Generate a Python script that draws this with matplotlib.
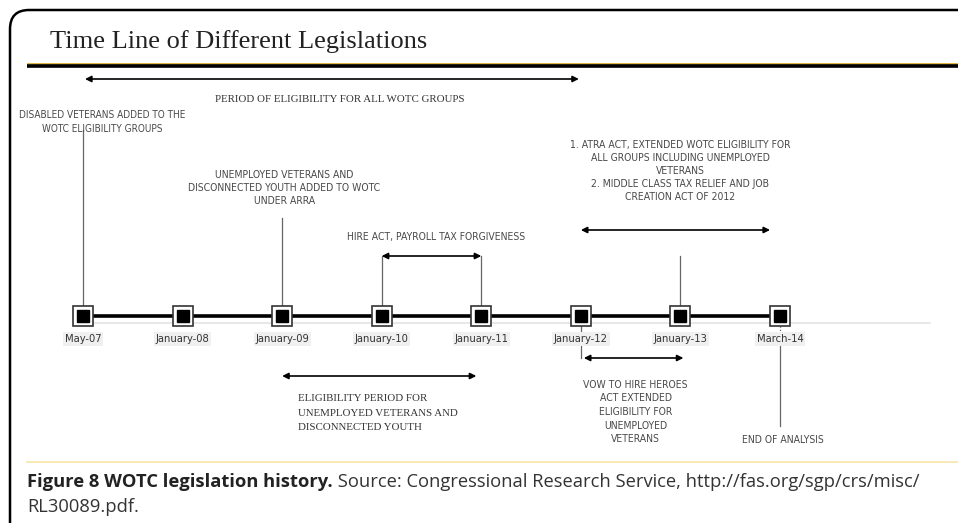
import matplotlib.pyplot as plt
from matplotlib.patches import FancyBboxPatch

# timeline milestones (evenly spaced on the chart)
dates = ['May-07', 'January-08', 'January-09', 'January-10', 'January-11',
         'January-12', 'January-13', 'March-14']
pos = list(range(len(dates)))

# spans drawn as double arrows (start index, end index)
all_groups_span = (0, 5)
hire_span = (3, 4)
atra_span = (5, 6.9)
unemployed_span = (2, 3.95)
vow_span = (5, 6)

title = 'Time Line of Different Legislations'
all_groups_txt = 'PERIOD OF ELIGIBILITY FOR ALL WOTC GROUPS'
disabled_txt = 'DISABLED VETERANS ADDED TO THE\nWOTC ELIGIBILITY GROUPS'
arra_txt = 'UNEMPLOYED VETERANS AND\nDISCONNECTED YOUTH ADDED TO WOTC\nUNDER ARRA'
hire_txt = 'HIRE ACT, PAYROLL TAX FORGIVENESS'
atra_txt = ('1. ATRA ACT, EXTENDED WOTC ELIGIBILITY FOR\nALL GROUPS INCLUDING UNEMPLOYED\n'
            'VETERANS\n2. MIDDLE CLASS TAX RELIEF AND JOB\nCREATION ACT OF 2012')
unemp_txt = 'ELIGIBILITY PERIOD FOR\nUNEMPLOYED VETERANS AND\nDISCONNECTED YOUTH'
vow_txt = 'VOW TO HIRE HEROES\nACT EXTENDED\nELIGIBILITY FOR\nUNEMPLOYED\nVETERANS'
end_txt = 'END OF ANALYSIS'
cap_bold = 'Figure 8 WOTC legislation history.'
cap_rest = ' Source: Congressional Research Service, http://fas.org/sgp/crs/misc/'
cap_line2 = 'RL30089.pdf.'

W, H = 958, 523
fig = plt.figure(figsize=(W / 100, H / 100), dpi=100)
ax = fig.add_axes([0, 0, 1, 1])
step = (780 - 83) / 7.0
ax.set_xlim(-83 / step, (W - 83) / step)
ax.set_ylim(H, 0)
ax.axis('off')

narrow = dict(family='DejaVu Sans', fontstretch='condensed')
serif = ['Liberation Serif', 'DejaVu Serif']
sans = ['Open Sans', 'DejaVu Sans']
gray = '#4a4a4a'

# frame with rounded top-left corner
fig.patches.append(FancyBboxPatch((10 / W, 1 - 600 / H), 1.2, (600 - 10) / H,
                                  boxstyle='round,pad=0,rounding_size=0.02',
                                  transform=fig.transFigure, fill=False, lw=1.8, ec='black',
                                  mutation_aspect=W / H))

# title and rules
fig.text(50 / W, 1 - 42 / H, title, family=serif, fontsize=19, va='center', color='#222')
x0 = (27 - 83) / step
ax.plot([x0, 20], [64, 64], color='#d8a520', lw=1.2, solid_capstyle='butt')
ax.plot([x0, 20], [66, 66], color='black', lw=2.6, solid_capstyle='butt')
ax.plot([x0, 20], [462, 462], color='#f7e6a6', lw=1.2)

# baseline and timeline
ax.plot([pos[0], (930 - 83) / step], [323, 323], color='#e4e4e4', lw=1.2)
ax.plot(pos, [316] * len(pos), color='black', lw=2.6, zorder=3)
ax.plot(pos, [316] * len(pos), ls='none', marker='s', ms=14, mfc='white', mec='#333',
        mew=1.2, zorder=4)
ax.plot(pos, [316] * len(pos), ls='none', marker='s', ms=9, mfc='black', mec='black',
        zorder=5)
for p, d in zip(pos, dates):
    ax.text(p, 339, d, fontsize=8, ha='center', va='center', color='#333',
            bbox=dict(boxstyle='square,pad=0.15', fc='#f0f0f0', ec='none'), **narrow)


def arrow(span, y):
    ax.annotate('', xy=(span[1], y), xytext=(span[0], y),
                arrowprops=dict(arrowstyle='<|-|>', color='black', lw=1.2,
                                mutation_scale=9, shrinkA=0, shrinkB=0))


def vline(x, y1, y2, ls='-'):
    ax.plot([x, x], [y1, y2], color='#666', lw=0.9, ls=ls, zorder=2)


# above the timeline
arrow((all_groups_span[0] + 0.02, all_groups_span[1] - 0.02), 79)
ax.text(2.58, 100, all_groups_txt, family=serif, fontsize=7.8, ha='center', va='center',
        color='#333')
vline(pos[0], 130, 310)
ax.text(0.19, 122, disabled_txt, fontsize=7.2, ha='center', va='center',
        color=gray, linespacing=1.4, **narrow)
vline(pos[2], 218, 310)
ax.text(2.02, 188, arra_txt, fontsize=7.5, ha='center', va='center',
        color=gray, linespacing=1.35, **narrow)
vline(pos[3], 256, 310)
vline(pos[4], 256, 310)
arrow(hire_span, 256)
ax.text(3.55, 237, hire_txt, fontsize=7.5, ha='center', va='center',
        color=gray, **narrow)
arrow(atra_span, 230)
ax.text(6.0, 171, atra_txt, fontsize=7.5, ha='center', va='center',
        color=gray, linespacing=1.35, **narrow)
vline(pos[6], 256, 310)

# below the timeline
arrow(unemployed_span, 376)
ax.text(2.16, 413, unemp_txt, family=serif, fontsize=7.8, ha='left', va='center',
        color='#333', linespacing=1.8)
vline(pos[5], 324, 358)
arrow((vow_span[0] + 0.03, vow_span[1] + 0.03), 358)
ax.text(5.55, 412, vow_txt, fontsize=7.5, ha='center', va='center',
        color=gray, linespacing=1.45, **narrow)
vline(pos[7], 326, 334, ls=':')
vline(pos[7], 334, 426)
ax.text(pos[7] + 0.03, 440, end_txt, fontsize=7.5, ha='center',
        va='center', color=gray, **narrow)

# caption
cap = fig.text(27 / W, 1 - 482 / H, cap_bold, family=sans,
               fontsize=13.2, fontweight='bold', va='center', color='#222')
ax.annotate(cap_rest, xy=(1, 0.5), xycoords=cap, va='center', ha='left',
            family=sans, fontsize=13.2, color='#333')
fig.text(27 / W, 1 - 507 / H, cap_line2, family=sans,
         fontsize=13.2, va='center', color='#333')

fig.savefig('out.png', dpi=100)
